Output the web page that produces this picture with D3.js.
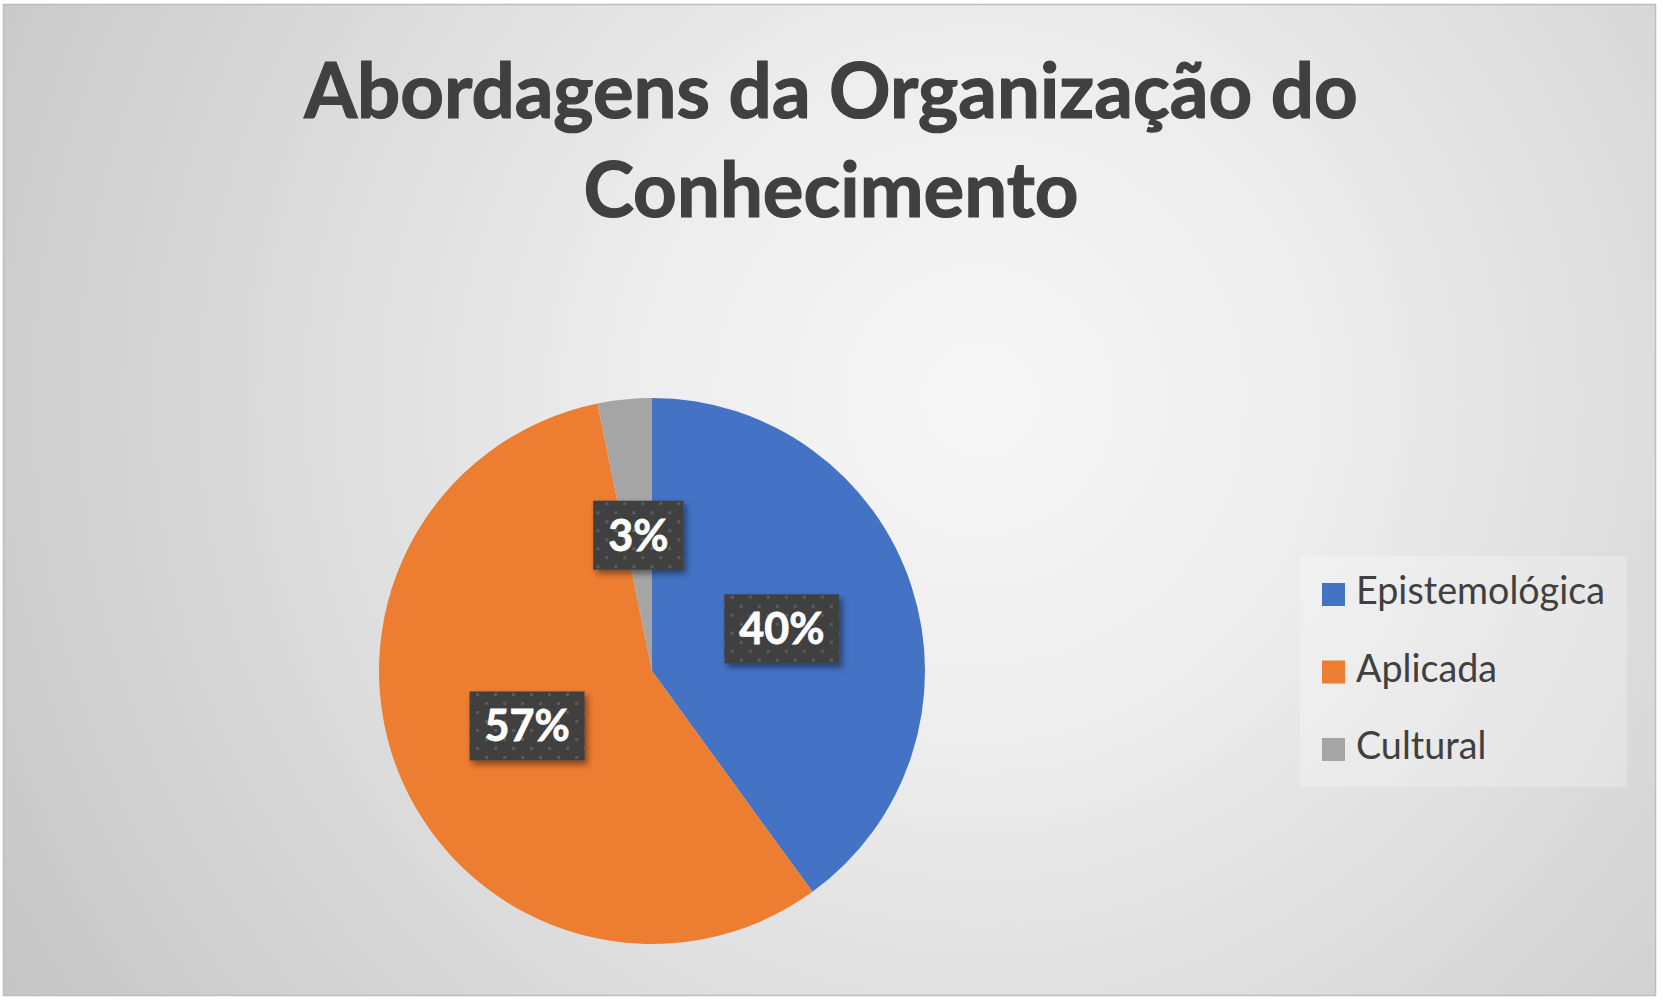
<!doctype html>
<html lang="pt">

<head>
    <meta charset="utf-8">
    <title>Abordagens da Organização do Conhecimento</title>
    <script src="https://cdn.jsdelivr.net/npm/d3@7"></script>
    <style>
        body {
            margin: 0;
            background: #ffffff;
        }

        svg {
            display: block;
        }
    </style>
</head>

<body>
    <svg width="1663" height="1003"></svg>

    <script>
        var titleLines = ['Abordagens da Organização do', 'Conhecimento'];
        var categories = ['Epistemológica', 'Aplicada', 'Cultural'];
        var shares = [40.0, 56.8, 3.2];
        var colors = ['#4472C4', '#ED7D31', '#A5A5A5'];

        var data = categories.map(function (c, i) { return { name: c, value: shares[i], color: colors[i] }; });

        var svg = d3.select('svg');
        var defs = svg.append('defs');

        // chart area background
        var bg = defs.append('radialGradient')
            .attr('id', 'bg')
            .attr('gradientUnits', 'userSpaceOnUse')
            .attr('cx', 980).attr('cy', 400).attr('r', 1150);
        bg.append('stop').attr('offset', 0).attr('stop-color', '#f7f7f7');
        bg.append('stop').attr('offset', 0.3).attr('stop-color', '#ededed');
        bg.append('stop').attr('offset', 0.65).attr('stop-color', '#d9d9d9');
        bg.append('stop').attr('offset', 1).attr('stop-color', '#c5c5c5');

        // dotted fill of the data label boxes
        var pat = defs.append('pattern')
            .attr('id', 'dots')
            .attr('patternUnits', 'userSpaceOnUse')
            .attr('width', 18).attr('height', 18);
        pat.append('rect').attr('width', 18).attr('height', 18).attr('fill', '#404040');
        pat.append('rect').attr('x', 3).attr('y', 3).attr('width', 3).attr('height', 3).attr('fill', '#5c5c5c');
        pat.append('rect').attr('x', 12).attr('y', 12).attr('width', 3).attr('height', 3).attr('fill', '#5c5c5c');

        var shadow = defs.append('filter').attr('id', 'shadow')
            .attr('x', '-20%').attr('y', '-20%').attr('width', '150%').attr('height', '150%');
        shadow.append('feDropShadow')
            .attr('dx', 3).attr('dy', 4).attr('stdDeviation', 3)
            .attr('flood-color', '#000').attr('flood-opacity', 0.45);

        svg.append('rect')
            .attr('x', 3.5).attr('y', 4.5)
            .attr('width', 1652).attr('height', 991)
            .attr('fill', 'url(#bg)')
            .attr('stroke', '#bdbdbd')
            .attr('stroke-width', 1.5);

        // title, fitted to the width of the original line
        var title = svg.append('g')
            .attr('font-family', 'Lato, "Open Sans", sans-serif')
            .attr('font-weight', 700)
            .attr('fill', '#404040')
            .attr('text-anchor', 'middle');
        var titleText = title.selectAll('text')
            .data(titleLines)
            .enter()
            .append('text')
            .attr('x', 831)
            .attr('y', function (d, i) { return 118 + i * 99; })
            .attr('font-size', 80)
            .attr('stroke', '#404040')
            .attr('stroke-width', 1.2)
            .text(function (d) { return d; });
        var len = titleText.node().getComputedTextLength();
        titleText.attr('font-size', 80 * 1054 / len);

        // pie
        var cx = 652, cy = 671, radius = 273;
        var pie = d3.pie().sort(null).value(function (d) { return d.value; });
        var arc = d3.arc().innerRadius(0).outerRadius(radius);
        var arcs = pie(data);

        var g = svg.append('g').attr('transform', 'translate(' + cx + ',' + cy + ')');

        g.selectAll('path')
            .data(arcs)
            .enter()
            .append('path')
            .attr('d', arc)
            .attr('fill', function (d) { return d.data.color; });

        // data labels
        var labels = g.selectAll('.label')
            .data(arcs)
            .enter()
            .append('g')
            .attr('class', 'label')
            .attr('transform', function (d) { return 'translate(' + arc.centroid(d) + ')'; });

        labels.append('text')
            .attr('text-anchor', 'middle')
            .attr('dy', '0.36em')
            .attr('font-family', 'Lato, "Open Sans", sans-serif')
            .attr('font-weight', 700)
            .attr('font-size', 43)
            .attr('fill', '#ffffff')
            .attr('stroke', '#ffffff')
            .attr('stroke-width', 0.8)
            .text(function (d) { return Math.round(d.data.value) + '%'; });

        labels.each(function () {
            var grp = d3.select(this);
            var w = grp.select('text').node().getComputedTextLength() + 30;
            grp.insert('rect', 'text')
                .attr('x', -w / 2).attr('y', -34.5)
                .attr('width', w).attr('height', 69)
                .attr('fill', 'url(#dots)')
                .attr('filter', 'url(#shadow)');
        });

        // legend
        var legendBox = svg.append('g').attr('transform', 'translate(1300,556)');
        legendBox.append('rect')
            .attr('width', 327).attr('height', 231)
            .attr('fill', '#ffffff')
            .attr('fill-opacity', 0.25);

        var legend = legendBox.selectAll('.entry')
            .data(data)
            .enter()
            .append('g')
            .attr('class', 'entry')
            .attr('transform', function (d, i) { return 'translate(0,' + (27 + i * 77.5) + ')'; });

        legend.append('rect')
            .attr('x', 22).attr('y', 0)
            .attr('width', 23).attr('height', 23)
            .attr('fill', function (d) { return d.color; });

        var legendText = legend.append('text')
            .attr('x', 56)
            .attr('y', 21)
            .attr('font-family', 'Lato, "Open Sans", sans-serif')
            .attr('font-size', 36)
            .attr('fill', '#404040')
            .text(function (d) { return d.name; });
        var llen = legendText.node().getComputedTextLength();
        legendText.attr('font-size', 36 * 249 / llen);
    </script>

</body>

</html>
